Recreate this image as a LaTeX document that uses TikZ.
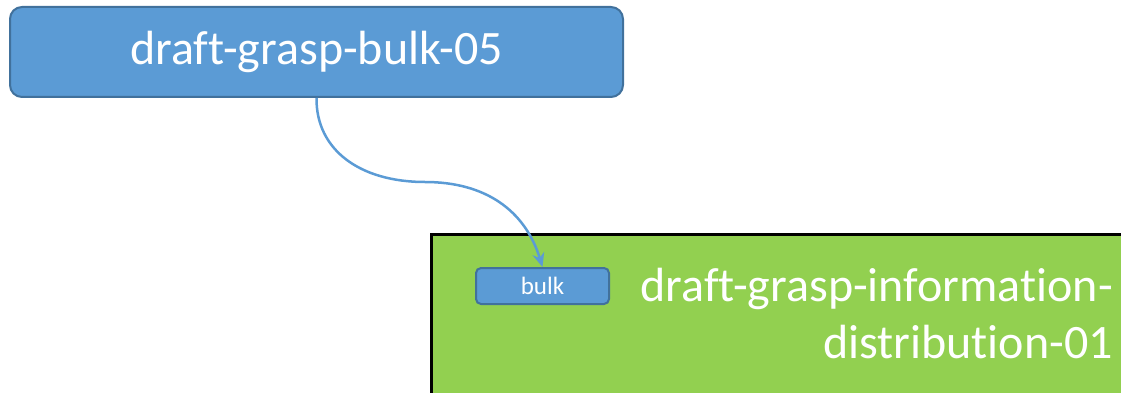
\documentclass[tikz,border=0pt]{standalone}
\usepackage{fontspec}
\setmainfont[Ligatures=NoCommon]{Carlito}
\usetikzlibrary{positioning,arrows.meta}

\definecolor{boxblue}{HTML}{5B9BD5}
\definecolor{edgeblue}{HTML}{41719C}
\definecolor{boxgreen}{HTML}{92D050}

\tikzset{
  draftbox/.style={draw=edgeblue, fill=boxblue, line width=2pt, rounded corners=12pt, text=white, inner sep=0pt},
  tagbox/.style={draw=edgeblue, fill=boxblue, line width=2pt, rounded corners=5pt, text=white, inner sep=0pt},
  groupbox/.style={draw=black, fill=boxgreen, line width=3pt, inner sep=0pt},
  uselink/.style={draw=boxblue, line width=2.5pt, -{Stealth[length=14pt,width=12pt]}}
}

\begin{document}
\begin{tikzpicture}[x=1pt, y=-1pt]
\useasboundingbox (0,0) rectangle (1121,393);
\clip (0,0) rectangle (1121,393);

\def\xa{316.5};
\def\xb{542.5};

\node[draftbox, minimum width=613pt, minimum height=90pt,
  font=\fontsize{48}{50}\selectfont] (bulkdraft) at (\xa, 52) {draft-grasp-bulk-05};

\node[groupbox, anchor=north west, minimum width=730pt, minimum height=200pt] (infodraft) at (430, 233) {};
\node[anchor=north east, align=right, inner sep=0pt, text=white,
  font=\fontsize{48}{57}\selectfont] (infotitle) at (1113, 268) {draft-grasp-information-\\distribution-01};

\node[tagbox, minimum width=133pt, minimum height=36pt,
  font=\fontsize{25}{28}\selectfont] (bulk) at (\xb, 286) {bulk};

\draw[uselink] (bulkdraft.south) .. controls (316,150) and (360,182) .. (425,182)
  .. controls (485,182) and (525,210) .. (bulk.north);
\end{tikzpicture}
\end{document}
